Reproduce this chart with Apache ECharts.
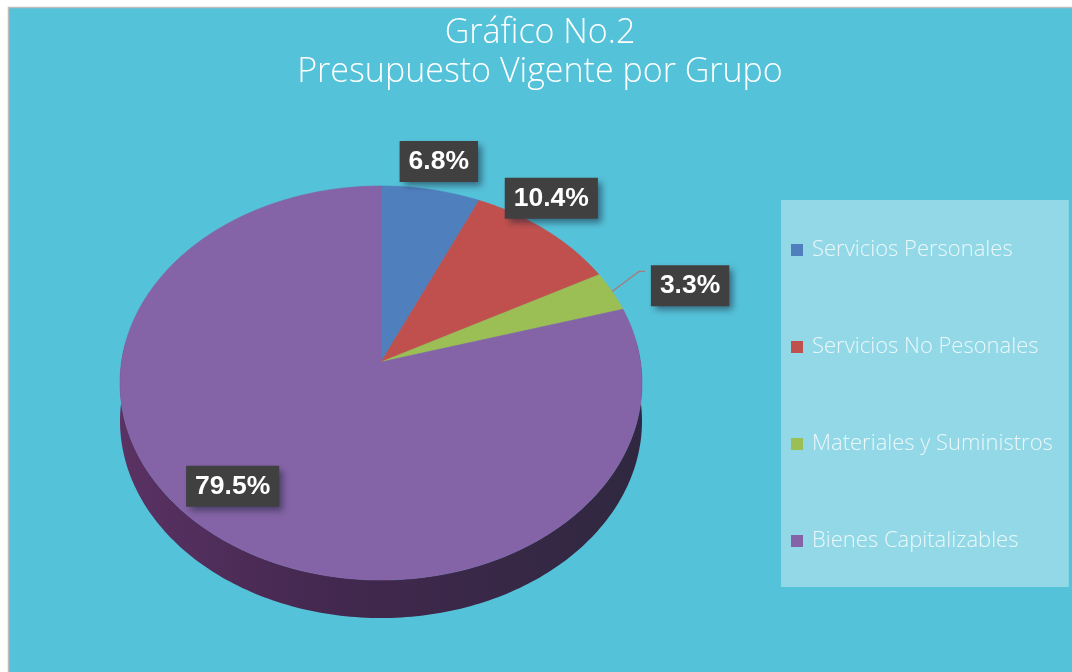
<!DOCTYPE html>
<html><head><meta charset="utf-8">
<style>html,body{margin:0;padding:0;background:#fff}#chart{width:1072px;height:672px}</style>
<script src="https://cdn.jsdelivr.net/npm/echarts@6/dist/echarts.min.js"></script>
</head><body><div id="chart"></div>
<script>
const titleLines = ['Gráfico No.2', 'Presupuesto Vigente por Grupo'];
const categories = ['Servicios Personales', 'Servicios No Pesonales', 'Materiales y Suministros', 'Bienes Capitalizables'];
const percents = [6.8, 10.4, 3.3, 79.5];
const sliceColors = ['#4f7fbd', '#c0504d', '#9bbf55', '#8463a6'];

// layout of the tilted pie (perspective projection of a circle)
const APEX_X = 381, APEX_Y = 362, RX = 259.5, RY = 194.8, PERSP = 0.1066, DEPTH = 38;
const labelOffsets = [[8, -28], [5.5, -32], [78, -5.6], [22, -46]];

const project = (deg, r = 1, dy = 0) => {
  const a = deg * Math.PI / 180, u = r * Math.sin(a), v = r * Math.cos(a), d = 1 + PERSP * v;
  return [APEX_X + RX * u / d, APEX_Y - RY * v / d + dy];
};
const total = percents.reduce((a, b) => a + b, 0);
let acc = 0;
const ranges = percents.map(p => { const s = acc; acc += p; return [s / total * 360, acc / total * 360]; });
const arc = (a, b, dy = 0) => {
  const pts = [], n = Math.max(2, Math.ceil(Math.abs(b - a)));
  for (let i = 0; i <= n; i++) pts.push(project(a + (b - a) * i / n, 1, dy));
  return pts;
};

const sideSeries = {
  type: 'custom', name: 'lado', coordinateSystem: 'none', silent: true, data: [[84, 276]], z: 1,
  renderItem: (p, api) => {
    const a = api.value(0), b = api.value(1);
    return { type: 'polygon', shape: { points: arc(a, b).concat(arc(b, a, DEPTH)) },
      style: { fill: new echarts.graphic.LinearGradient(0, 0, 1, 0, [
        { offset: 0, color: '#5a3263' }, { offset: 0.4, color: '#43284f' }, { offset: 1, color: '#2f2840' }]) } };
  }
};
const sliceSeries = categories.map((name, i) => ({
  type: 'custom', name, coordinateSystem: 'none', silent: true, z: 2,
  itemStyle: { color: sliceColors[i] },
  data: [ranges[i]],
  renderItem: (p, api) => {
    const pts = [[APEX_X, APEX_Y]].concat(arc(api.value(0), api.value(1)));
    return { type: 'polygon', shape: { points: pts },
      style: { fill: api.visual('color'), stroke: api.visual('color'), lineWidth: 0.6 } };
  }
}));
const labelSeries = {
  type: 'custom', name: 'etiquetas', coordinateSystem: 'none', silent: true, z: 5,
  data: percents.map((v, i) => [(ranges[i][0] + ranges[i][1]) / 2, v, i]),
  renderItem: (p, api) => {
    const i = api.value(2), rim = project(api.value(0)), off = labelOffsets[i];
    const children = [];
    if (i === 2) {
      children.push({ type: 'polyline', shape: { points: [rim, [rim[0] + 27, rim[1] - 20], [rim[0] + 33, rim[1] - 20]] },
        style: { fill: 'none', stroke: '#a57b78', lineWidth: 1.2 } });
    }
    children.push({ type: 'text', x: rim[0] + off[0], y: rim[1] + off[1], style: {
      text: api.value(1).toFixed(1) + '%', fill: '#fff', align: 'center', verticalAlign: 'middle',
      font: 'bold 26.5px "Liberation Sans", Arial, sans-serif', backgroundColor: '#404040', padding: [10, 9, 4, 9],
      shadowColor: 'rgba(20,30,50,.55)', shadowBlur: 7, shadowOffsetX: 4, shadowOffsetY: 4 } });
    return { type: 'group', children };
  }
};

const chart = echarts.init(document.getElementById('chart'), null, { renderer: 'canvas' });
chart.setOption({
  animation: false,
  backgroundColor: '#fff',
  graphic: [{ type: 'rect', z: -10, shape: { x: 8.5, y: 7.5, width: 1070, height: 670 },
    style: { fill: '#54c2d9', stroke: '#c0bcbc', lineWidth: 1.5 } }],
  title: { text: titleLines.join('\n'), left: 535, top: 9, textAlign: 'center',
    textStyle: { color: '#fff', fontFamily: '"Open Sans", sans-serif', fontWeight: 300, fontSize: 34, lineHeight: 39 } },
  legend: { data: categories, orient: 'vertical', left: 781, top: 200, icon: 'rect', itemWidth: 12, itemHeight: 12,
    itemGap: 75, padding: [39, 16, 35, 10], backgroundColor: 'rgba(255,255,255,.37)', selectedMode: false,
    textStyle: { color: '#eaf8fa', fontFamily: '"Open Sans", sans-serif', fontWeight: 300, fontSize: 22, padding: [0, 0, 0, 4] } },
  series: [sideSeries, ...sliceSeries, labelSeries]
});
</script></body></html>
